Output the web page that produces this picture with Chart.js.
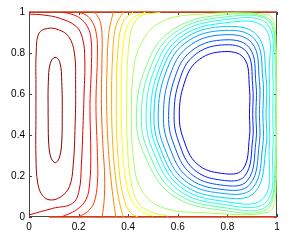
<!DOCTYPE html>
<html>
<head>
<meta charset="utf-8">
<script src="https://cdn.jsdelivr.net/npm/chart.js@4"></script>
<style>
  html, body { margin: 0; padding: 0; background: #fff; }
  #chart { display: block; }
</style>
</head>
<body>
<canvas id="chart" width="291" height="242"></canvas>
<script>
// Tick labels
const xTicks = [0, 0.2, 0.4, 0.6, 0.8, 1];
const yTicks = [0, 0.2, 0.4, 0.6, 0.8, 1];

// Contour lines, from the left (hot) cell to the right (cold) cell
const contourLines = [
  // 1 - innermost left loop
  [[.077,.5],[.078,.66],[.086,.75],[.105,.779],[.124,.755],[.132,.66],[.134,.5],[.131,.35],[.121,.285],[.106,.265],[.09,.285],[.08,.35],[.077,.5]],
  // 2
  [[.028,.5],[.028,.3],[.036,.16],[.058,.1],[.09,.083],[.13,.1],[.163,.148],[.178,.25],[.186,.45],[.188,.65],[.183,.8],[.16,.88],[.12,.913],[.075,.92],[.04,.895],[.029,.8],[.028,.65],[.028,.5]],
  // 3
  [[0,.99],[.06,.985],[.122,.97],[.19,.93],[.216,.87],[.225,.77],[.222,.6],[.218,.45],[.211,.25],[.202,.13],[.176,.067],[.095,.042],[0,.01]],
  // 4
  [[.129,1],[.17,.99],[.205,.97],[.235,.93],[.25,.87],[.252,.75],[.246,.55],[.249,.3],[.245,.17],[.23,.085],[.19,.034],[.13,0]],
  // 5
  [[.195,1],[.23,.985],[.256,.95],[.272,.89],[.276,.8],[.27,.55],[.276,.3],[.276,.17],[.262,.07],[.235,.025],[.196,0]],
  // 6
  [[.265,1],[.285,.96],[.294,.9],[.294,.75],[.292,.55],[.298,.35],[.305,.2],[.303,.08],[.295,0]],
  // 7
  [[.34,1],[.322,.9],[.314,.7],[.313,.55],[.319,.35],[.331,.18],[.342,.07],[.35,0]],
  // 8
  [[.38,1],[.35,.93],[.337,.78],[.333,.55],[.338,.35],[.35,.18],[.365,.07],[.38,0]],
  // 9
  [[.42,1],[.378,.95],[.358,.8],[.352,.55],[.356,.35],[.368,.18],[.385,.08],[.41,.02],[.44,0]],
  // 10
  [[.47,1],[.41,.96],[.38,.84],[.372,.55],[.376,.35],[.388,.2],[.41,.09],[.45,.03],[.5,.005]],
  // 11
  [[.53,1],[.44,.97],[.405,.86],[.394,.55],[.398,.33],[.41,.18],[.44,.07],[.49,.025],[.56,.005]],
  // 12
  [[.998,.5],[.998,.2],[.97,.025],[.7,.021],[.53,.05],[.45,.14],[.42,.3],[.414,.49],[.42,.7],[.45,.84],[.53,.95],[.7,.99],[.97,.985],[.998,.8],[.998,.5]],
  // 13
  [[.998,.5],[.998,.319],[.97,.048],[.772,.034],[.574,.11],[.467,.3],[.433,.49],[.473,.738],[.574,.909],[.772,.985],[.975,.961],[.998,.7],[.998,.5]],
  // 14
  [[.994,.5],[.994,.325],[.967,.061],[.778,.047],[.588,.121],[.485,.307],[.453,.492],[.491,.733],[.588,.9],[.778,.974],[.972,.951],[.994,.696],[.994,.5]],
  // 15
  [[.983,.5],[.983,.332],[.957,.075],[.779,.062],[.6,.134],[.503,.314],[.472,.494],[.508,.727],[.6,.889],[.779,.961],[.963,.939],[.983,.691],[.983,.5]],
  // 16
  [[.969,.5],[.969,.338],[.945,.091],[.777,.078],[.61,.147],[.519,.321],[.49,.494],[.524,.72],[.61,.876],[.777,.945],[.95,.923],[.969,.685],[.969,.5]],
  // 17
  [[.956,.5],[.956,.346],[.911,.121],[.775,.096],[.617,.163],[.531,.329],[.504,.495],[.536,.712],[.617,.861],[.775,.928],[.92,.886],[.956,.678],[.956,.5]],
  // 18
  [[.943,.5],[.943,.354],[.901,.14],[.774,.116],[.627,.179],[.546,.338],[.521,.497],[.551,.703],[.627,.846],[.774,.909],[.909,.869],[.943,.671],[.943,.5]],
  // 19
  [[.929,.5],[.929,.361],[.89,.158],[.774,.135],[.639,.195],[.565,.346],[.542,.496],[.569,.692],[.639,.828],[.774,.888],[.898,.85],[.929,.662],[.929,.5]],
  // 20
  [[.915,.5],[.915,.368],[.88,.177],[.774,.156],[.651,.213],[.584,.354],[.563,.495],[.588,.679],[.651,.806],[.774,.863],[.887,.828],[.915,.651],[.915,.5]],
  // 21
  [[.902,.5],[.902,.378],[.87,.2],[.775,.18],[.664,.233],[.604,.365],[.585,.496],[.607,.668],[.664,.786],[.775,.839],[.877,.806],[.902,.641],[.902,.5]],
  // 22 - innermost right loop
  [[.889,.5],[.889,.391],[.861,.231],[.776,.213],[.677,.26],[.623,.379],[.606,.498],[.626,.652],[.677,.759],[.776,.806],[.866,.776],[.889,.628],[.889,.5]]
];

// Colormap position of each line (1 = dark red, 0 = dark blue)
const levelValues = [1, .958, .916, .874, .832, .790, .749, .707, .665, .623, .581,
  .539, .497, .455, .413, .371, .330, .288, .246, .204, .162, .120];

// The walls, which also sit on the zero contour
const topWall = [[0, 1], [1, 1]];
const bottomWall = [[0.08, 0], [1, 0]];

// jet colormap
function jet(t) {
  const c = v => Math.round(255 * Math.max(0, Math.min(1, v)));
  return `rgb(${c(1.5 - Math.abs(4 * t - 3))},${c(1.5 - Math.abs(4 * t - 2))},${c(1.5 - Math.abs(4 * t - 1))})`;
}

function toPoints(arr) {
  return arr.map(p => ({ x: p[0], y: p[1] }));
}

const datasets = contourLines.map((line, i) => ({
  data: toPoints(line),
  borderColor: jet(levelValues[i]),
  borderWidth: 1,
  tension: 0.4,
  pointRadius: 0,
  showLine: true,
  fill: false
}));

datasets.push({
  data: toPoints(topWall), borderColor: '#d8401c', borderWidth: 1.5,
  pointRadius: 0, showLine: true, clip: false
});
datasets.push({
  data: toPoints(bottomWall), borderColor: '#e8401a', borderWidth: 1.5,
  pointRadius: 0, showLine: true, clip: false
});

// Box with inward ticks (matlab style)
const framePlugin = {
  id: 'frame',
  beforeDatasetsDraw(chart) {
    const { ctx, chartArea: a, scales } = chart;
    ctx.save();
    ctx.strokeStyle = '#444';
    ctx.lineWidth = 1;
    ctx.strokeRect(a.left + 0.5, a.top + 0.5, a.right - a.left - 1, a.bottom - a.top - 1);
    ctx.beginPath();
    xTicks.forEach(v => {
      const px = Math.round(scales.x.getPixelForValue(v)) + 0.5;
      ctx.moveTo(px, a.bottom); ctx.lineTo(px, a.bottom - 3);
      ctx.moveTo(px, a.top); ctx.lineTo(px, a.top + 3);
    });
    yTicks.forEach(v => {
      const py = Math.round(scales.y.getPixelForValue(v)) + 0.5;
      ctx.moveTo(a.left, py); ctx.lineTo(a.left + 3, py);
      ctx.moveTo(a.right, py); ctx.lineTo(a.right - 3, py);
    });
    ctx.stroke();
    ctx.restore();
  }
};

const tickFont = { family: '"Liberation Sans", Arial, sans-serif', size: 10 };

new Chart(document.getElementById('chart'), {
  type: 'scatter',
  data: { datasets: datasets },
  options: {
    responsive: false,
    animation: false,
    devicePixelRatio: 1,
    events: [],
    layout: { padding: { top: 12, right: 14, left: 0, bottom: 0 } },
    plugins: {
      legend: { display: false },
      tooltip: { enabled: false }
    },
    scales: {
      x: {
        type: 'linear', min: 0, max: 1,
        afterBuildTicks: s => { s.ticks = xTicks.map(v => ({ value: v })); },
        afterFit: s => { s.height = 25; },
        grid: { display: false, drawTicks: false },
        border: { display: false },
        ticks: { padding: 4, color: '#000', font: tickFont, maxRotation: 0, autoSkip: false, callback: v => String(v) }
      },
      y: {
        type: 'linear', min: 0, max: 1,
        afterBuildTicks: s => { s.ticks = yTicks.map(v => ({ value: v })); },
        afterFit: s => { s.width = 29; },
        grid: { display: false, drawTicks: false },
        border: { display: false },
        ticks: { padding: 4, color: '#000', font: tickFont, autoSkip: false, callback: v => String(v) }
      }
    }
  },
  plugins: [framePlugin]
});
</script>
</body>
</html>
